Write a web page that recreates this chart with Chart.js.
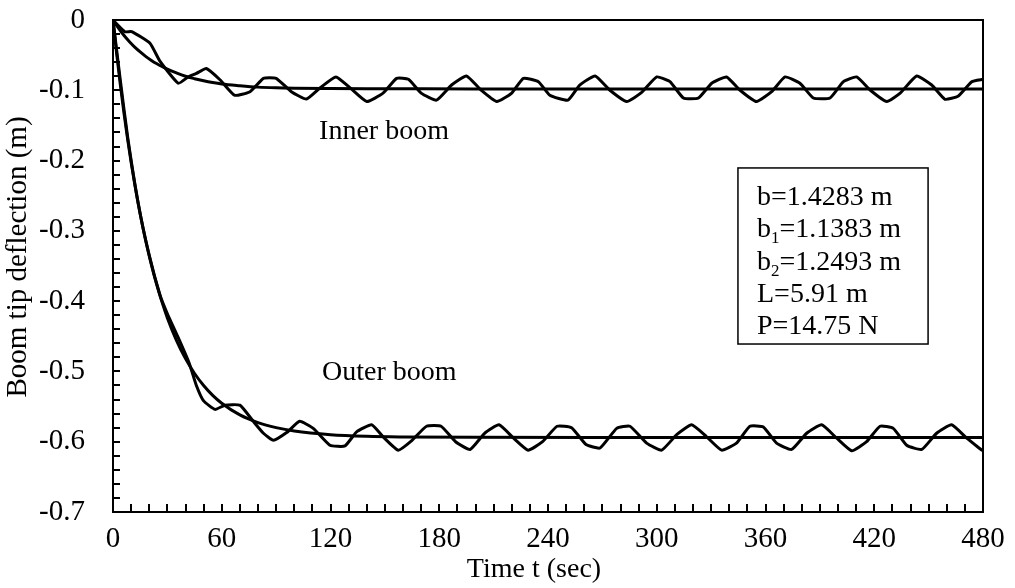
<!DOCTYPE html>
<html><head><meta charset="utf-8">
<script src="https://cdn.jsdelivr.net/npm/chart.js@4.4.0/dist/chart.umd.min.js"></script>
<style>html,body{margin:0;padding:0;background:#fff}canvas{display:block}</style>
</head><body>
<canvas id="c" width="1015" height="588"></canvas>
<script>
const xTickValues = [0,60,120,180,240,300,360,420,480];
const yTickValues = [0,-0.1,-0.2,-0.3,-0.4,-0.5,-0.6,-0.7];

const innerTime = [0,6.5,10.3,20.4,26,36,41.5,46,51.5,59,67,75.6,83,90,98.4,106.7,114,123,131,140,149,156.5,163,170,178.5,186.8,195,203,211.7,220,226.4,234.7,241,251,257.5,266,274,283.4,291.7,300,307.3,314.7,323,330.3,338.5,345.8,355,363.4,370.8,379,386.4,395.6,403,410.3,417.7,426.9,434.3,443.4,451.7,459,466.4,473.8,480];
const innerDefl = [0,-0.0166,-0.0166,-0.033,-0.059,-0.090,-0.081,-0.076,-0.069,-0.085,-0.107,-0.102,-0.083,-0.083,-0.102,-0.1124,-0.097,-0.081,-0.097,-0.116,-0.104,-0.083,-0.0844,-0.104,-0.114,-0.0925,-0.0797,-0.0996,-0.116,-0.104,-0.083,-0.0877,-0.107,-0.114,-0.0925,-0.0797,-0.0996,-0.116,-0.103,-0.081,-0.0877,-0.111,-0.111,-0.090,-0.081,-0.0996,-0.116,-0.102,-0.081,-0.090,-0.111,-0.111,-0.0877,-0.081,-0.0996,-0.116,-0.104,-0.0797,-0.0925,-0.1128,-0.108,-0.0877,-0.0844];

const outerTime = [0,4,8,14,20,26,30,36,42,46,50,56.3,61.8,70,77.4,83,88.5,95.8,103,110.5,119.7,128,134.4,142.7,149,157.4,165,173,181,189,197,205,213,221,229,237,245,253,261,268.7,277.9,285.2,294.4,302.7,311,319.3,327.5,335.8,344,351.4,358.8,366.1,374.4,382.7,391,399.3,407.6,415.8,423.2,430.5,437.9,446.2,454.4,462.7,471,479.3];
const outerDefl = [0,-0.085,-0.165,-0.262,-0.335,-0.392,-0.418,-0.452,-0.488,-0.52,-0.542,-0.554,-0.548,-0.548,-0.571,-0.588,-0.598,-0.587,-0.571,-0.581,-0.605,-0.606,-0.586,-0.576,-0.593,-0.612,-0.598,-0.578,-0.578,-0.600,-0.611,-0.588,-0.576,-0.595,-0.612,-0.600,-0.578,-0.580,-0.604,-0.609,-0.581,-0.578,-0.602,-0.612,-0.590,-0.576,-0.593,-0.612,-0.602,-0.578,-0.579,-0.602,-0.611,-0.588,-0.576,-0.595,-0.613,-0.600,-0.578,-0.581,-0.605,-0.611,-0.588,-0.576,-0.595,-0.612];

const fitTime = [0,2,4,6,8,10,12,15,18,21,24,27,30,35,40,45,50,55,60,70,80,90,100,120,140,160,200,300,400,480];
const innerFit = [0,-0.0078,-0.0150,-0.0217,-0.0278,-0.0334,-0.0386,-0.0455,-0.0517,-0.0571,-0.0620,-0.0662,-0.0699,-0.0752,-0.0800,-0.0835,-0.0865,-0.0890,-0.0910,-0.0935,-0.0955,-0.0965,-0.0970,-0.0975,-0.0978,-0.0979,-0.0980,-0.0980,-0.0980,-0.0980];
const outerFit = [0,-0.0475,-0.0912,-0.1314,-0.1684,-0.2024,-0.2337,-0.2760,-0.3134,-0.3464,-0.3755,-0.4011,-0.4238,-0.4558,-0.4818,-0.5029,-0.5200,-0.5340,-0.5452,-0.5619,-0.5728,-0.5800,-0.5848,-0.5900,-0.5923,-0.5932,-0.5938,-0.5940,-0.5940,-0.5940];

const curveLabels = ['Inner boom','Outer boom'];
const paramLines = [['b','','=1.4283 m'],['b','1','=1.1383 m'],['b','2','=1.2493 m'],['L','','=5.91 m'],['P','','=14.75 N']];
const xTitle = 'Time t (sec)';
const yTitle = 'Boom tip deflection (m)';

function pts(xs, ys){ return xs.map((v,i)=>({x:v, y:ys[i]})); }

const FONT = '"Liberation Serif", "Times New Roman", serif';

const decor = {
  id:'decor',
  afterDatasetsDraw(chart){
    const {ctx, chartArea:a, scales:{x,y}} = chart;
    ctx.save();
    ctx.strokeStyle='#000'; ctx.fillStyle='#000';
    // minor ticks (inward)
    ctx.lineWidth=2;
    ctx.beginPath();
    for(let v=10; v<480; v+=10){ const px=Math.round(x.getPixelForValue(v)); ctx.moveTo(px,a.bottom); ctx.lineTo(px,a.bottom-8); }
    for(let k=1;k<35;k++){ const py=Math.round(y.getPixelForValue(-k*0.02)); ctx.moveTo(a.left,py); ctx.lineTo(a.left+7,py); }
    ctx.stroke();
    // plot frame
    ctx.lineWidth=2;
    ctx.strokeRect(a.left, a.top, a.right-a.left, a.bottom-a.top);
    // curve labels
    ctx.font = '28px '+FONT;
    ctx.textAlign='left'; ctx.textBaseline='alphabetic';
    ctx.fillText(curveLabels[0], x.getPixelForValue(113.7), y.getPixelForValue(-0.1693));
    ctx.fillText(curveLabels[1], x.getPixelForValue(115.3), y.getPixelForValue(-0.512));
    // parameter box
    const bx0=x.getPixelForValue(344.8), bx1=x.getPixelForValue(449.7);
    const by0=y.getPixelForValue(-0.2105), by1=y.getPixelForValue(-0.461);
    ctx.fillStyle='#fff';
    ctx.fillRect(bx0,by0,bx1-bx0,by1-by0);
    ctx.lineWidth=1.5;
    ctx.strokeRect(bx0,by0,bx1-bx0,by1-by0);
    ctx.fillStyle='#000';
    const tx = x.getPixelForValue(355.3);
    const base = [-0.263,-0.309,-0.356,-0.401,-0.447];
    paramLines.forEach((ln,i)=>{
      const by = y.getPixelForValue(base[i]);
      let cx = tx;
      ctx.font='28px '+FONT;
      ctx.fillText(ln[0], cx, by); cx += ctx.measureText(ln[0]).width;
      if(ln[1]){
        ctx.font='17px '+FONT;
        ctx.fillText(ln[1], cx, by+6); cx += ctx.measureText(ln[1]).width;
        ctx.font='28px '+FONT;
      }
      ctx.fillText(ln[2], cx, by);
    });
    // axis titles
    ctx.font='28px '+FONT;
    ctx.textAlign='center';
    ctx.fillText(xTitle, 534, 577);
    ctx.save();
    ctx.font='29px '+FONT;
    ctx.translate(26, 257);
    ctx.rotate(-Math.PI/2);
    ctx.fillText(yTitle, 0, 0);
    ctx.restore();
    ctx.restore();
  }
};

const lineStyle = {borderColor:'#000', borderWidth:3, pointRadius:0, fill:false, borderJoinStyle:'round', borderCapStyle:'round'};

new Chart(document.getElementById('c'), {
  type:'scatter',
  data:{datasets:[
    Object.assign({label:'Inner boom fit', data:pts(fitTime, innerFit), showLine:true, tension:0.4, cubicInterpolationMode:'monotone'}, lineStyle),
    Object.assign({label:'Outer boom fit', data:pts(fitTime, outerFit), showLine:true, tension:0.4, cubicInterpolationMode:'monotone'}, lineStyle),
    Object.assign({label:'Inner boom', data:pts(innerTime, innerDefl), showLine:true, tension:0.15}, lineStyle),
    Object.assign({label:'Outer boom', data:pts(outerTime, outerDefl), showLine:true, tension:0.15}, lineStyle)
  ]},
  options:{
    responsive:false, animation:false, devicePixelRatio:1,
    layout:{padding:{left:0, top:20, right:32, bottom:0}},
    plugins:{legend:{display:false}, tooltip:{enabled:false}},
    scales:{
      x:{type:'linear', min:0, max:480,
        afterBuildTicks(s){ s.ticks = xTickValues.map(v=>({value:v})); },
        afterFit(s){ s.height = 76; s.paddingLeft = 0; s.paddingRight = 0; },
        grid:{display:false, drawTicks:false}, border:{display:false},
        ticks:{color:'#000', font:{family:FONT, size:29}, padding:10, maxRotation:0, autoSkip:false,
          callback:(v)=>String(v)}
      },
      y:{type:'linear', min:-0.7, max:0,
        afterBuildTicks(s){ s.ticks = yTickValues.map(v=>({value:v})); },
        afterFit(s){ s.width = 113; s.paddingTop = 0; s.paddingBottom = 0; },
        grid:{display:false, drawTicks:false}, border:{display:false},
        ticks:{color:'#000', font:{family:FONT, size:29}, padding:28, autoSkip:false,
          callback:(v)=> Math.abs(v)<1e-9 ? '0' : v.toFixed(1)}
      }
    }
  },
  plugins:[decor]
});
</script>
</body></html>
